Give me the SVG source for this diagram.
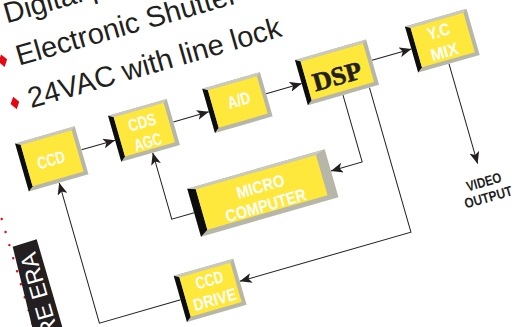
<svg xmlns="http://www.w3.org/2000/svg" width="524" height="327" viewBox="0 0 524 327">
<defs>
<style>
.face{fill:#ffe83c}
.bev{fill:#b6b7a9}
.bevt{fill:#c9cabd}
.blk{fill:#0d0d0d}
.lbl{font-family:"Liberation Sans",Arial,sans-serif;font-weight:bold;fill:#ffffff;font-size:17px;text-anchor:middle}
.out{font-family:"Liberation Sans",Arial,sans-serif;font-weight:bold;fill:#231f20;font-size:14px;text-anchor:middle}
.bul{font-family:"Liberation Sans",Arial,sans-serif;fill:#231f20;font-size:29px}
.dia{fill:#e30613}
.conn{fill:none;stroke:#231f20;stroke-width:1}
</style>
<marker id="ah" markerUnits="userSpaceOnUse" viewBox="0 0 12 10" markerWidth="12" markerHeight="10" refX="12" refY="5" orient="auto">
<path d="M0,0 L12,5 L0,10 L3,5 Z" fill="#231f20"/>
</marker>
</defs>
<rect width="524" height="327" fill="#ffffff"/>
<path d="M-2.13,205.96 L35.5,334" stroke="#e30613" stroke-width="2.4" stroke-linecap="round" stroke-dasharray="0 13.6" fill="none"/>
<g id="side-label">
<polygon points="12.7,246.7 36.7,239.3 63.2,330 32.9,330" fill="#231f20"/>
<text transform="translate(35,251) rotate(-106)" text-anchor="end" font-family="'Liberation Sans',Arial,sans-serif" font-size="23" fill="#ffffff">RE ERA</text>
</g>
<g transform="rotate(-16)">
<g id="bullets">
<polygon class="dia" points="-14,8.6 -9.5,15 -14,21.6 -18.5,15"/>
<text class="bul" x="0" y="24.5">Digital processing</text>
<polygon class="dia" points="-14,52.6 -9.5,59 -14,65.6 -18.5,59"/>
<text class="bul" x="0" y="68.5">Electronic Shutter</text>
<polygon class="dia" points="-14,96.6 -9.5,103 -14,109.6 -18.5,103"/>
<text class="bul" x="0" y="112.7">24VAC with line lock</text>
</g>
<g id="connectors">
<path class="conn" marker-end="url(#ah)" d="M37,166.5 H72"/>
<path class="conn" marker-end="url(#ah)" d="M133,165 H170"/>
<path class="conn" marker-end="url(#ah)" d="M230,163.5 H267"/>
<path class="conn" marker-end="url(#ah)" d="M341,160.5 H382"/>
<path class="conn" marker-end="url(#ah)" d="M414,185 V289"/>
<path class="conn" marker-end="url(#ah)" d="M303.5,186 V255.5 H271"/>
<path class="conn" marker-end="url(#ah)" d="M331,186 V336.5 H153"/>
<path class="conn" marker-end="url(#ah)" d="M128,258 H104.7 V189"/>
<path class="conn" marker-end="url(#ah)" d="M91,338 H6.5 V192"/>
</g>
<g id="ccd">
<rect class="bev" x="-25" y="142" width="62" height="50"/>
<polygon class="bevt" points="-25,142 37,142 33,145 -20,145"/>
<polygon class="blk" points="-25,142 -20,145 -20,188 -25,192"/>
<rect class="face" x="-20" y="145" width="53" height="43"/>
<text class="lbl" x="5" y="173.7" textLength="28" lengthAdjust="spacingAndGlyphs">CCD</text>
</g>
<g id="cds-agc">
<rect class="bev" x="72" y="141" width="61" height="48"/>
<polygon class="bevt" points="72,141 133,141 129,144 77,144"/>
<polygon class="blk" points="72,141 77,144 77,185 72,189"/>
<rect class="face" x="77" y="144" width="52" height="41"/>
<text class="lbl" x="103" y="162.5" textLength="28" lengthAdjust="spacingAndGlyphs">CDS</text>
<text class="lbl" x="103" y="183" textLength="28" lengthAdjust="spacingAndGlyphs">AGC</text>
</g>
<g id="ad">
<rect class="bev" x="170" y="141" width="60" height="46"/>
<polygon class="bevt" points="170,141 230,141 226,144 175,144"/>
<polygon class="blk" points="170,141 175,144 175,183 170,187"/>
<rect class="face" x="175" y="144" width="51" height="39"/>
<text class="lbl" x="202" y="168" textLength="23" lengthAdjust="spacingAndGlyphs">A/D</text>
</g>
<g id="dsp">
<rect class="bev" x="267" y="139" width="74" height="47"/>
<polygon class="bevt" points="267,139 341,139 337,142 272,142"/>
<polygon class="blk" points="267,139 272,142 272,182 267,186"/>
<rect class="face" x="272" y="142" width="65" height="40"/>
<text x="303" y="175" text-anchor="middle" font-family="'Liberation Serif','Times New Roman',serif" font-weight="bold" font-size="26" fill="#231f20" stroke="#231f20" stroke-width="0.6" textLength="50" lengthAdjust="spacingAndGlyphs">DSP</text>
</g>
<g id="yc-mix">
<rect class="bev" x="382" y="137" width="64" height="48"/>
<polygon class="bevt" points="382,137 446,137 442,140 387,140"/>
<polygon class="blk" points="382,137 387,140 387,181 382,185"/>
<rect class="face" x="387" y="140" width="55" height="41"/>
<text class="lbl" x="413" y="157" textLength="23" lengthAdjust="spacingAndGlyphs">Y.C</text>
<text class="lbl" x="413" y="178.2" textLength="28" lengthAdjust="spacingAndGlyphs">MIX</text>
</g>
<g id="micro-computer">
<rect class="bev" x="128" y="233" width="143" height="50"/>
<polygon class="bevt" points="128,233 271,233 261,236 136,236"/>
<polygon class="blk" points="128,233 136,236 136,278 128,283"/>
<rect class="face" x="136" y="236" width="125" height="42"/>
<text class="lbl" x="199" y="257" textLength="49" lengthAdjust="spacingAndGlyphs">MICRO</text>
<text class="lbl" x="199" y="276.5" textLength="83" lengthAdjust="spacingAndGlyphs">COMPUTER</text>
</g>
<g id="ccd-drive">
<rect class="bev" x="91" y="313" width="62" height="48"/>
<polygon class="bevt" points="91,313 153,313 149,316 96,316"/>
<polygon class="blk" points="91,313 96,316 96,357 91,361"/>
<rect class="face" x="96" y="316" width="53" height="41"/>
<text class="lbl" x="124" y="332.7" textLength="28" lengthAdjust="spacingAndGlyphs">CCD</text>
<text class="lbl" x="124" y="353" textLength="44" lengthAdjust="spacingAndGlyphs">DRIVE</text>
</g>
<g id="video-output">
<text class="out" x="415" y="313" textLength="36" lengthAdjust="spacingAndGlyphs">VIDEO</text>
<text class="out" x="415" y="329" textLength="49" lengthAdjust="spacingAndGlyphs">OUTPUT</text>
</g>
</g>
</svg>
